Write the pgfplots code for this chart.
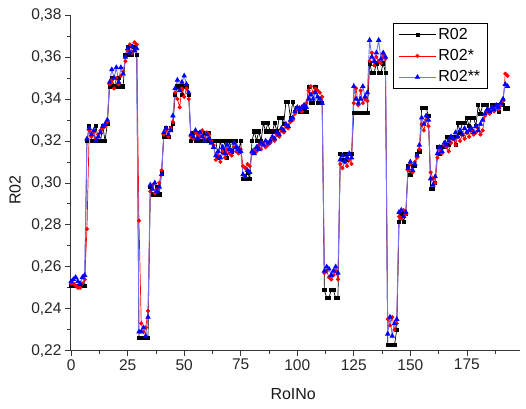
\documentclass[border=0pt]{standalone}
\usepackage{fontspec}
\setmainfont{Liberation Sans}
\usepackage{pgfplots}
\pgfplotsset{compat=1.18}
\usepackage{pgfplotstable}

\definecolor{axgray}{RGB}{55,55,55}
\definecolor{blueline}{RGB}{115,115,255}

% i = RoINo, a = R02, b = R02*, c = R02**
\pgfplotstableread{
i a b c
0 0.251 0.252 0.253
1 0.251 0.252 0.254
2 0.251 0.251 0.255
3 0.251 0.250 0.253
4 0.251 0.250 0.252
5 0.251 0.252 0.255
6 0.251 0.254 0.256
7 0.320 0.278 0.321
8 0.327 0.325 0.326
9 0.320 0.322 0.323
10 0.320 0.324 0.325
11 0.327 0.321 0.320
12 0.320 0.323 0.322
13 0.320 0.325 0.324
14 0.327 0.326 0.327
15 0.320 0.327 0.328
16 0.328 0.329 0.330
17 0.346 0.347 0.348
18 0.350 0.349 0.354
19 0.346 0.345 0.350
20 0.346 0.350 0.355
21 0.350 0.347 0.348
22 0.346 0.351 0.355
23 0.346 0.353 0.352
24 0.361 0.358 0.360
25 0.365 0.363 0.364
26 0.361 0.366 0.362
27 0.361 0.362 0.365
28 0.365 0.367 0.363
29 0.361 0.366 0.364
30 0.226 0.282 0.229
31 0.226 0.233 0.229
32 0.226 0.229 0.231
33 0.226 0.231 0.227
34 0.226 0.239 0.236
35 0.298 0.296 0.299
36 0.2945 0.299 0.297
37 0.2945 0.295 0.300
38 0.298 0.297 0.296
39 0.2945 0.300 0.298
40 0.305 0.306 0.304
41 0.322 0.323 0.324
42 0.326 0.325 0.326
43 0.322 0.322 0.323
44 0.326 0.326 0.325
45 0.328 0.329 0.332
46 0.342 0.343 0.345
47 0.346 0.340 0.349
48 0.346 0.336 0.344
49 0.342 0.345 0.348
50 0.346 0.341 0.351
51 0.346 0.345 0.347
52 0.342 0.340 0.343
53 0.320 0.322 0.323
54 0.324 0.321 0.322
55 0.320 0.324 0.325
56 0.324 0.323 0.321
57 0.320 0.322 0.324
58 0.320 0.325 0.322
59 0.324 0.321 0.320
60 0.320 0.324 0.323
61 0.324 0.323 0.321
62 0.320 0.320 0.319
63 0.320 0.318 0.317
64 0.320 0.311 0.313
65 0.312 0.313 0.315
66 0.320 0.310 0.312
67 0.315 0.315 0.317
68 0.320 0.312 0.314
69 0.312 0.316 0.318
70 0.320 0.314 0.316
71 0.315 0.313 0.315
72 0.320 0.317 0.319
73 0.320 0.315 0.317
74 0.315 0.314 0.316
75 0.320 0.316 0.315
76 0.302 0.308 0.304
77 0.302 0.307 0.303
78 0.305 0.309 0.306
79 0.302 0.308 0.305
80 0.320 0.314 0.315
81 0.3245 0.316 0.314
82 0.320 0.315 0.317
83 0.3245 0.318 0.316
84 0.320 0.316 0.319
85 0.3285 0.319 0.318
86 0.3245 0.317 0.320
87 0.3285 0.318 0.319
88 0.3245 0.319 0.320
89 0.3245 0.321 0.322
90 0.3285 0.320 0.321
91 0.3245 0.323 0.324
92 0.331 0.322 0.323
93 0.331 0.325 0.326
94 0.328 0.324 0.325
95 0.3387 0.327 0.328
96 0.3387 0.326 0.327
97 0.331 0.329 0.330
98 0.3387 0.330 0.331
99 0.334 0.333 0.334
100 0.3355 0.335 0.336
101 0.334 0.336 0.335
102 0.334 0.334 0.336
103 0.3355 0.337 0.337
104 0.334 0.338 0.336
105 0.3458 0.344 0.340
106 0.338 0.346 0.342
107 0.338 0.343 0.340
108 0.3458 0.345 0.343
109 0.338 0.344 0.341
110 0.338 0.343 0.340
111 0.338 0.341 0.338
112 0.249 0.257 0.258
113 0.2451 0.258 0.260
114 0.2451 0.255 0.259
115 0.2489 0.254 0.256
116 0.2489 0.256 0.258
117 0.2451 0.258 0.260
118 0.2451 0.254 0.257
119 0.314 0.309 0.311
120 0.311 0.307 0.313
121 0.314 0.310 0.310
122 0.311 0.308 0.312
123 0.314 0.311 0.314
124 0.314 0.309 0.312
125 0.3332 0.338 0.346
126 0.3332 0.345 0.340
127 0.3332 0.337 0.338
128 0.3332 0.344 0.340
129 0.3332 0.338 0.346
130 0.3332 0.340 0.341
131 0.3332 0.339 0.343
132 0.357 0.358 0.368
133 0.3525 0.362 0.360
134 0.3525 0.356 0.358
135 0.357 0.360 0.362
136 0.3525 0.358 0.368
137 0.3525 0.357 0.359
138 0.357 0.361 0.362
139 0.3525 0.359 0.360
140 0.2227 0.235 0.228
141 0.2227 0.232 0.236
142 0.2227 0.236 0.227
143 0.2227 0.230 0.233
144 0.230 0.233 0.235
145 0.2816 0.284 0.286
146 0.2854 0.283 0.287
147 0.2816 0.287 0.284
148 0.2854 0.285 0.286
149 0.308 0.306 0.307
150 0.304 0.309 0.310
151 0.308 0.305 0.306
152 0.308 0.310 0.309
153 0.314 0.312 0.313
154 0.315 0.316 0.318
155 0.3357 0.328 0.331
156 0.3357 0.325 0.328
157 0.3357 0.330 0.332
158 0.332 0.327 0.330
159 0.297 0.305 0.302
160 0.297 0.302 0.299
161 0.300 0.300 0.303
162 0.3173 0.312 0.314
163 0.314 0.316 0.317
164 0.3173 0.314 0.315
165 0.3173 0.318 0.319
166 0.322 0.317 0.318
167 0.318 0.315 0.320
168 0.322 0.319 0.322
169 0.322 0.321 0.321
170 0.318 0.318 0.324
171 0.3285 0.322 0.322
172 0.324 0.320 0.325
173 0.3285 0.323 0.323
174 0.3285 0.321 0.326
175 0.331 0.324 0.324
176 0.327 0.322 0.325
177 0.331 0.325 0.326
178 0.331 0.323 0.324
179 0.327 0.324 0.327
180 0.337 0.326 0.325
181 0.333 0.323 0.328
182 0.337 0.325 0.330
183 0.337 0.332 0.333
184 0.337 0.334 0.335
185 0.334 0.333 0.334
186 0.337 0.335 0.336
187 0.337 0.334 0.335
188 0.337 0.336 0.337
189 0.334 0.335 0.336
190 0.337 0.337 0.338
191 0.337 0.339 0.340
192 0.3355 0.352 0.347
193 0.3355 0.351 0.346
}\data

\begin{document}
\begin{tikzpicture}
  \useasboundingbox (-70pt,-57.3pt) rectangle (456pt,350.7pt);
  \begin{axis}[
      scale only axis,
      width=450pt,
      height=335.7pt,
      xmin=-0.5, xmax=198.5,
      ymin=0.22, ymax=0.38,
      axis lines=left,
      axis line style={-, axgray, line width=0.8pt},
      tick align=outside,
      tick style={axgray, line width=0.7pt},
      major tick length=5pt,
      minor tick length=3pt,
      xtick={0,25,50,75,100,125,150,175},
      minor xtick={12.5,37.5,62.5,87.5,112.5,137.5,162.5,187.5},
      ytick={0.22,0.24,0.26,0.28,0.30,0.32,0.34,0.36,0.38},
      minor ytick={0.23,0.25,0.27,0.29,0.31,0.33,0.35,0.37},
      /pgf/number format/assume math mode=true,
      yticklabel style={/pgf/number format/.cd, fixed, fixed zerofill, precision=2, use comma},
      tick label style={font=\fontsize{15.5}{17}\selectfont, text=black!85},
      label style={font=\fontsize{16}{18}\selectfont, text=black!90},
      xlabel={RoINo},
      ylabel={R02},
      xlabel style={at={(axis description cs:0.496,-0.128)}, anchor=center},
      ylabel style={at={(axis description cs:-0.122,0.479)}, anchor=center},
      legend style={at={(axis description cs:0.718,0.976)}, anchor=north west,
        draw=black, line width=0.8pt, fill=white,
        font=\fontsize{16}{18}\selectfont,
        inner xsep=5pt, inner ysep=3pt, row sep=4.5pt,
        nodes={inner sep=2pt}},
      legend cell align=left,
      legend image code/.code={
        \draw[mark repeat=2, mark phase=2, #1]
        plot coordinates {(0pt,0pt) (18.5pt,0pt) (37pt,0pt)};
      },
    ]
    \addplot[black, line width=0.7pt, mark=square*, mark size=1.6pt] table[x=i, y=a] {\data};
    \addplot[red, line width=0.7pt, mark=*, mark size=1.7pt] table[x=i, y=b] {\data};
    \addplot[blueline, line width=0.9pt, mark=triangle*, mark size=2.3pt,
      mark options={draw=blue, fill=blue}] table[x=i, y=c] {\data};
    \legend{R02, R02*, R02**}
  \end{axis}
\end{tikzpicture}
\end{document}
